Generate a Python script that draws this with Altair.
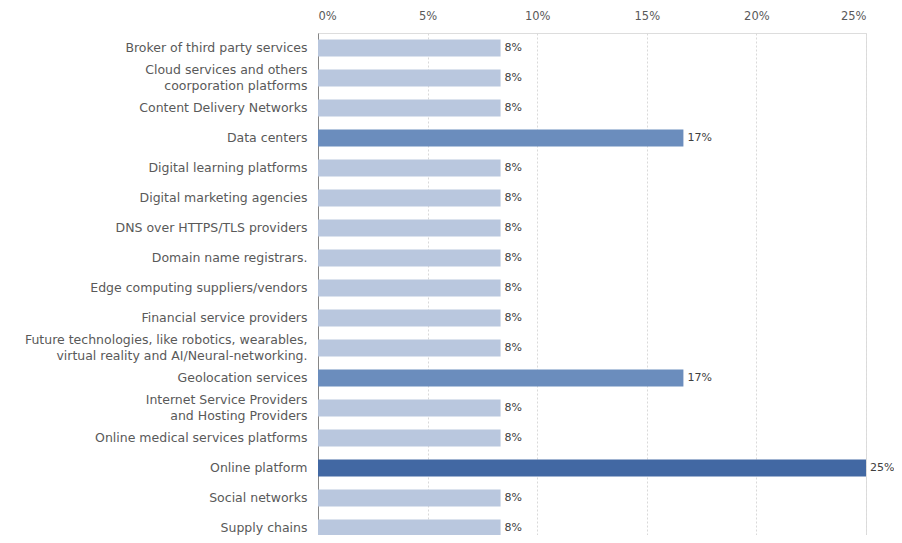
import altair as alt
import pandas as pd

categories = [
    "Broker of third party services",
    "Cloud services and others|coorporation platforms",
    "Content  Delivery Networks",
    "Data centers",
    "Digital learning platforms",
    "Digital marketing agencies",
    "DNS over HTTPS/TLS  providers",
    "Domain name registrars.",
    "Edge computing suppliers/vendors",
    "Financial service providers",
    "Future technologies, like robotics, wearables,|virtual reality and AI/Neural-networking.",
    "Geolocation services",
    "Internet Service Providers|and Hosting Providers",
    "Online medical services platforms",
    "Online platform",
    "Social networks",
    "Supply chains",
]
values = [0.0833, 0.0833, 0.0833, 0.1667, 0.0833, 0.0833, 0.0833, 0.0833, 0.0833,
          0.0833, 0.0833, 0.1667, 0.0833, 0.0833, 0.25, 0.0833, 0.0833]
tick_values = [0, 0.05, 0.10, 0.15, 0.20, 0.25]
level_domain = [0.0833, 0.1667, 0.25]
level_colors = ["#b9c7de", "#6b8dbd", "#4268a3"]

df = pd.DataFrame({"category": categories, "value": values})

FONT = "DejaVu Sans"

y_enc = alt.Y(
    "category:N",
    sort=categories,
    title=None,
    scale=alt.Scale(range=[0, 510], paddingInner=0.43, paddingOuter=0.215),
    axis=alt.Axis(
        labelExpr="split(datum.label, '|')",
        labelFont=FONT,
        labelFontSize=12.5,
        labelColor="#595959",
        labelLineHeight=16,
        labelPadding=11,
        labelOffset={"condition": {"test": "indexof(datum.value, '|') >= 0", "value": -8}, "value": 0},
        ticks=False,
        domainColor="#868686",
        domainWidth=1,
        labelLimit=400,
    ),
)

x_enc = alt.X(
    "value:Q",
    title=None,
    scale=alt.Scale(domain=[0, 0.25], nice=False),
    axis=alt.Axis(
        orient="top",
        values=tick_values,
        format=".0%",
        labelFont=FONT,
        labelFontSize=11.5,
        labelColor="#595959",
        labelPadding=12,
        ticks=False,
        domain=False,
        grid=True,
        gridColor="#d9d9d9",
        gridDash=[2, 2],
    ),
)

bars = alt.Chart(df).mark_bar().encode(
    x=x_enc,
    y=y_enc,
    color=alt.Color("value:N", scale=alt.Scale(domain=level_domain, range=level_colors), legend=None),
)

labels = alt.Chart(df).mark_text(
    align="left", baseline="middle", dx=4, font=FONT, fontSize=11, color="#404040"
).encode(
    x="value:Q",
    y=alt.Y("category:N", sort=categories),
    text=alt.Text("value:Q", format=".0%"),
)

chart = (bars + labels).properties(
    width=548,
    height=502,
    padding={"left": 310, "top": 25, "right": 28, "bottom": 0},
    autosize=alt.AutoSizeParams(type="none"),
).configure_view(stroke=None).configure(background="white")

chart.save("out.html", embed_options={"renderer": "svg", "actions": False})
